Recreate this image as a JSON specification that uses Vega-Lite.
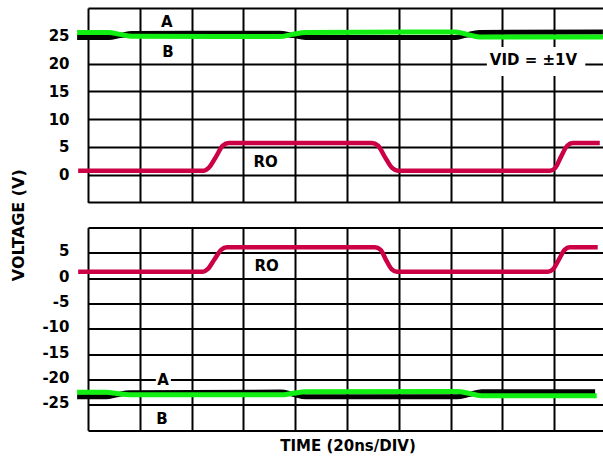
{
  "$schema": "https://vega.github.io/schema/vega-lite/v6.json",
  "autosize": {"type": "pad"},
  "padding": {"left": 10, "top": 1, "right": 0, "bottom": 0},
  "background": "white",
  "bounds": "flush",
  "spacing": 24.6,
  "config": {
    "view": {"stroke": null},
    "font": "DejaVu Sans",
    "axis": {
      "labelFont": "DejaVu Sans", "labelFontWeight": "bold", "labelFontSize": 15, "labelColor": "black",
      "labelOverlap": false,
      "titleFont": "DejaVu Sans", "titleFontWeight": "bold", "titleColor": "black",
      "grid": true, "gridColor": "black", "gridWidth": 2, "gridOpacity": 1,
      "ticks": false, "domain": false
    }
  },
  "resolve": {"scale": {"x": "shared", "y": "independent"}, "axis": {"x": "independent", "y": "independent"}},
  "datasets": {
    "traces": [
      {"panel": "top", "series": "A", "t": -0.21, "v": 24.7},
      {"panel": "top", "series": "A", "t": 0.4, "v": 24.7},
      {"panel": "top", "series": "A", "t": 0.62, "v": 25.05},
      {"panel": "top", "series": "A", "t": 0.85, "v": 25.4},
      {"panel": "top", "series": "A", "t": 2.0, "v": 25.45},
      {"panel": "top", "series": "A", "t": 3.7, "v": 25.45},
      {"panel": "top", "series": "A", "t": 3.94, "v": 25.1},
      {"panel": "top", "series": "A", "t": 4.2, "v": 24.7},
      {"panel": "top", "series": "A", "t": 7.1, "v": 24.7},
      {"panel": "top", "series": "A", "t": 7.32, "v": 25.2},
      {"panel": "top", "series": "A", "t": 7.55, "v": 25.6},
      {"panel": "top", "series": "A", "t": 9.94, "v": 25.7},
      {"panel": "top", "series": "B", "t": -0.21, "v": 25.6},
      {"panel": "top", "series": "B", "t": 0.4, "v": 25.6},
      {"panel": "top", "series": "B", "t": 0.62, "v": 25.25},
      {"panel": "top", "series": "B", "t": 0.85, "v": 24.9},
      {"panel": "top", "series": "B", "t": 3.7, "v": 24.85},
      {"panel": "top", "series": "B", "t": 3.94, "v": 25.25},
      {"panel": "top", "series": "B", "t": 4.2, "v": 25.6},
      {"panel": "top", "series": "B", "t": 7.1, "v": 25.7},
      {"panel": "top", "series": "B", "t": 7.32, "v": 25.25},
      {"panel": "top", "series": "B", "t": 7.55, "v": 24.8},
      {"panel": "top", "series": "B", "t": 9.94, "v": 24.8},
      {"panel": "top", "series": "RO", "t": -0.19, "v": 0.72},
      {"panel": "top", "series": "RO", "t": 2.24, "v": 0.72},
      {"panel": "top", "series": "RO", "t": 2.33, "v": 1.2},
      {"panel": "top", "series": "RO", "t": 2.47, "v": 3.2},
      {"panel": "top", "series": "RO", "t": 2.6, "v": 5.2},
      {"panel": "top", "series": "RO", "t": 2.72, "v": 5.7},
      {"panel": "top", "series": "RO", "t": 5.48, "v": 5.7},
      {"panel": "top", "series": "RO", "t": 5.6, "v": 5.2},
      {"panel": "top", "series": "RO", "t": 5.73, "v": 3.2},
      {"panel": "top", "series": "RO", "t": 5.87, "v": 1.2},
      {"panel": "top", "series": "RO", "t": 5.98, "v": 0.72},
      {"panel": "top", "series": "RO", "t": 8.92, "v": 0.72},
      {"panel": "top", "series": "RO", "t": 9.02, "v": 1.2},
      {"panel": "top", "series": "RO", "t": 9.13, "v": 3.2},
      {"panel": "top", "series": "RO", "t": 9.25, "v": 5.2},
      {"panel": "top", "series": "RO", "t": 9.36, "v": 5.7},
      {"panel": "top", "series": "RO", "t": 9.88, "v": 5.7},
      {"panel": "bottom", "series": "A", "t": -0.21, "v": -23.4},
      {"panel": "bottom", "series": "A", "t": 0.35, "v": -23.4},
      {"panel": "bottom", "series": "A", "t": 0.56, "v": -23.0},
      {"panel": "bottom", "series": "A", "t": 0.8, "v": -22.6},
      {"panel": "bottom", "series": "A", "t": 3.72, "v": -22.45},
      {"panel": "bottom", "series": "A", "t": 3.96, "v": -22.9},
      {"panel": "bottom", "series": "A", "t": 4.2, "v": -23.4},
      {"panel": "bottom", "series": "A", "t": 7.12, "v": -23.4},
      {"panel": "bottom", "series": "A", "t": 7.37, "v": -22.9},
      {"panel": "bottom", "series": "A", "t": 7.6, "v": -22.4},
      {"panel": "bottom", "series": "A", "t": 9.79, "v": -22.4},
      {"panel": "bottom", "series": "B", "t": -0.21, "v": -22.5},
      {"panel": "bottom", "series": "B", "t": 0.35, "v": -22.5},
      {"panel": "bottom", "series": "B", "t": 0.56, "v": -22.75},
      {"panel": "bottom", "series": "B", "t": 0.8, "v": -23.0},
      {"panel": "bottom", "series": "B", "t": 3.72, "v": -23.0},
      {"panel": "bottom", "series": "B", "t": 3.96, "v": -22.7},
      {"panel": "bottom", "series": "B", "t": 4.2, "v": -22.4},
      {"panel": "bottom", "series": "B", "t": 7.12, "v": -22.35},
      {"panel": "bottom", "series": "B", "t": 7.37, "v": -22.75},
      {"panel": "bottom", "series": "B", "t": 7.6, "v": -23.2},
      {"panel": "bottom", "series": "B", "t": 9.82, "v": -23.2},
      {"panel": "bottom", "series": "RO", "t": -0.19, "v": 1.3},
      {"panel": "bottom", "series": "RO", "t": 2.22, "v": 1.3},
      {"panel": "bottom", "series": "RO", "t": 2.31, "v": 1.8},
      {"panel": "bottom", "series": "RO", "t": 2.44, "v": 3.7},
      {"panel": "bottom", "series": "RO", "t": 2.57, "v": 5.6},
      {"panel": "bottom", "series": "RO", "t": 2.68, "v": 6.1},
      {"panel": "bottom", "series": "RO", "t": 5.54, "v": 6.1},
      {"panel": "bottom", "series": "RO", "t": 5.65, "v": 5.6},
      {"panel": "bottom", "series": "RO", "t": 5.75, "v": 3.7},
      {"panel": "bottom", "series": "RO", "t": 5.86, "v": 1.8},
      {"panel": "bottom", "series": "RO", "t": 5.96, "v": 1.3},
      {"panel": "bottom", "series": "RO", "t": 8.88, "v": 1.3},
      {"panel": "bottom", "series": "RO", "t": 8.98, "v": 1.8},
      {"panel": "bottom", "series": "RO", "t": 9.09, "v": 3.7},
      {"panel": "bottom", "series": "RO", "t": 9.2, "v": 5.6},
      {"panel": "bottom", "series": "RO", "t": 9.3, "v": 6.1},
      {"panel": "bottom", "series": "RO", "t": 9.84, "v": 6.1}
    ],
    "masks": [
      {"panel": "top", "t": 7.7, "t2": 9.6, "v": 17.75, "v2": 23.0},
      {"panel": "bottom", "t": 1.31, "t2": 1.6, "v": -21.3, "v2": -18.7}
    ],
    "labels": [
      {"panel": "top", "t": 1.52, "v": 27.4, "text": "A"},
      {"panel": "top", "t": 1.545, "v": 22.0, "text": "B"},
      {"panel": "top", "t": 3.43, "v": 2.2, "text": "RO"},
      {"panel": "top", "t": 8.6, "v": 20.7, "text": "VID = ±1V"},
      {"panel": "bottom", "t": 1.45, "v": -20.0, "text": "A"},
      {"panel": "bottom", "t": 1.43, "v": -27.8, "text": "B"},
      {"panel": "bottom", "t": 3.45, "v": 2.5, "text": "RO"}
    ]
  },
  "vconcat": [
    {
      "width": 515,
      "height": 194.4,
      "encoding": {
        "x": {"field": "t", "type": "quantitative", "scale": {"domain": [0, 9.942], "nice": false, "zero": false},
              "axis": {"values": [0,1,2,3,4,5,6,7,8,9], "labels": false, "title": null}},
        "y": {"field": "v", "type": "quantitative", "scale": {"domain": [-5, 30], "nice": false, "zero": false},
              "axis": {"values": [-5,0,5,10,15,20,25,30],
                       "labelExpr": "datum.value < 0 || datum.value > 25 ? '' : '' + datum.value",
                       "labelOverlap": false, "labelBound": false, "labelFlush": false,
                       "labelPadding": 19,
                       "title": "VOLTAGE (V)", "titleFontSize": 16,
                       "titleX": -65, "titleY": 216.7, "titleBaseline": "alphabetic", "titleAlign": "center", "titleAngle": 270}}
      },
      "layer": [
        {
          "data": {"name": "masks"},
          "transform": [{"filter": "datum.panel == 'top'"}],
          "mark": {"type": "rect", "color": "white", "opacity": 1},
          "encoding": {"x2": {"field": "t2"}, "y2": {"field": "v2"}}
        },
        {
          "data": {"name": "traces"},
          "transform": [{"filter": "datum.panel == 'top' && datum.series == 'A'"}],
          "mark": {"type": "line", "interpolate": "monotone", "strokeWidth": 5, "color": "black"}
        },
        {
          "data": {"name": "traces"},
          "transform": [{"filter": "datum.panel == 'top' && datum.series == 'B'"}],
          "mark": {"type": "line", "interpolate": "monotone", "strokeWidth": 5, "color": "#11ee11"}
        },
        {
          "data": {"name": "traces"},
          "transform": [{"filter": "datum.panel == 'top' && datum.series == 'RO'"}],
          "mark": {"type": "line", "interpolate": "monotone", "strokeWidth": 4.5, "color": "#cc0044"}
        },
        {
          "data": {"name": "labels"},
          "transform": [{"filter": "datum.panel == 'top'"}],
          "mark": {"type": "text", "font": "DejaVu Sans", "fontWeight": "bold", "fontSize": 15, "color": "black"},
          "encoding": {"text": {"field": "text"}}
        }
      ]
    },
    {
      "width": 515,
      "height": 202.7,
      "encoding": {
        "x": {"field": "t", "type": "quantitative", "scale": {"domain": [0, 9.942], "nice": false, "zero": false},
              "axis": {"values": [0,1,2,3,4,5,6,7,8,9], "labels": false, "title": "TIME (20ns/DIV)", "titleFontSize": 15, "titlePadding": 8, "titleX": 259.5}},
        "y": {"field": "v", "type": "quantitative", "scale": {"domain": [-30, 10], "nice": false, "zero": false},
              "axis": {"values": [-30,-25,-20,-15,-10,-5,0,5,10],
                       "labelExpr": "datum.value < -25 || datum.value > 5 ? '' : '' + datum.value",
                       "labelOverlap": false, "labelBound": false, "labelFlush": false,
                       "labelPadding": 19, "labelOffset": -2, "title": null}}
      },
      "layer": [
        {
          "data": {"name": "masks"},
          "transform": [{"filter": "datum.panel == 'bottom'"}],
          "mark": {"type": "rect", "color": "white", "opacity": 1},
          "encoding": {"x2": {"field": "t2"}, "y2": {"field": "v2"}}
        },
        {
          "data": {"name": "traces"},
          "transform": [{"filter": "datum.panel == 'bottom' && datum.series == 'A'"}],
          "mark": {"type": "line", "interpolate": "monotone", "strokeWidth": 5, "color": "black"}
        },
        {
          "data": {"name": "traces"},
          "transform": [{"filter": "datum.panel == 'bottom' && datum.series == 'B'"}],
          "mark": {"type": "line", "interpolate": "monotone", "strokeWidth": 5, "color": "#11ee11"}
        },
        {
          "data": {"name": "traces"},
          "transform": [{"filter": "datum.panel == 'bottom' && datum.series == 'RO'"}],
          "mark": {"type": "line", "interpolate": "monotone", "strokeWidth": 4.5, "color": "#cc0044"}
        },
        {
          "data": {"name": "labels"},
          "transform": [{"filter": "datum.panel == 'bottom'"}],
          "mark": {"type": "text", "font": "DejaVu Sans", "fontWeight": "bold", "fontSize": 15, "color": "black"},
          "encoding": {"text": {"field": "text"}}
        }
      ]
    }
  ]
}
